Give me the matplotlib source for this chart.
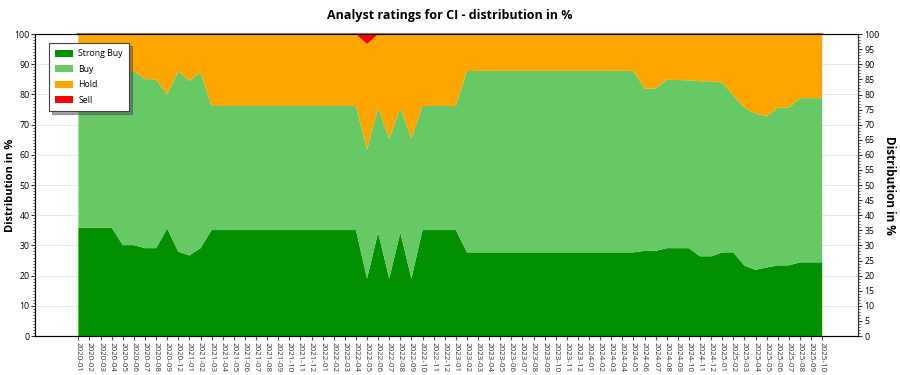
import numpy as np
import matplotlib.pyplot as plt
from matplotlib.ticker import MultipleLocator

plt.rcParams['font.family'] = ['Open Sans', 'DejaVu Sans']

# Months shown on the x axis (2020-10 and 2020-11 are missing in the source)
months = ['2020-01', '2020-02', '2020-03', '2020-04', '2020-05', '2020-06', '2020-07', '2020-08', '2020-09', '2020-12',
          '2021-01', '2021-02', '2021-03', '2021-04', '2021-05', '2021-06', '2021-07', '2021-08', '2021-09', '2021-10', '2021-11', '2021-12',
          '2022-01', '2022-02', '2022-03', '2022-04', '2022-05', '2022-06', '2022-07', '2022-08', '2022-09', '2022-10', '2022-11', '2022-12',
          '2023-01', '2023-02', '2023-03', '2023-04', '2023-05', '2023-06', '2023-07', '2023-08', '2023-09', '2023-10', '2023-11', '2023-12',
          '2024-01', '2024-02', '2024-03', '2024-04', '2024-05', '2024-06', '2024-07', '2024-08', '2024-09', '2024-10', '2024-11', '2024-12',
          '2025-01', '2025-02', '2025-03', '2025-04', '2025-05', '2025-06', '2025-07', '2025-08', '2025-09', '2025-10']

# distribution in %
strong_buy = [35.9, 35.9, 35.9, 35.9, 30.1, 30.1, 29.1, 29.1, 35.6, 27.9,
              26.7, 29.1, 35.1, 35.1, 35.1, 35.1, 35.1, 35.1, 35.1, 35.1, 35.1, 35.1,
              35.1, 35.1, 35.1, 35.1, 19.0, 34.3, 19.0, 34.3, 19.0, 35.1, 35.1, 35.1,
              35.1, 27.7, 27.7, 27.7, 27.7, 27.7, 27.7, 27.7, 27.7, 27.7, 27.7, 27.7,
              27.7, 27.7, 27.7, 27.7, 27.7, 28.2, 28.2, 29.1, 29.1, 29.1, 26.4, 26.4,
              27.7, 27.7, 23.3, 21.9, 22.7, 23.4, 23.4, 24.4, 24.4, 24.4]
buy = [52.1, 52.1, 52.1, 52.1, 57.6, 57.6, 56.0, 55.9, 44.4, 59.8,
       57.8, 58.2, 41.1, 41.1, 41.1, 41.1, 41.1, 41.1, 41.1, 41.1, 41.1, 41.1,
       41.1, 41.1, 41.1, 41.1, 42.7, 41.3, 46.3, 41.3, 46.3, 41.1, 41.1, 41.1,
       41.1, 60.1, 60.1, 60.1, 60.1, 60.1, 60.1, 60.1, 60.1, 60.1, 60.1, 60.1,
       60.1, 60.1, 60.1, 60.1, 60.1, 53.8, 53.8, 55.8, 55.7, 55.6, 58.0, 58.0,
       56.3, 52.0, 52.3, 51.8, 50.1, 52.2, 52.2, 54.4, 54.4, 54.4]
hold = [12.0, 12.0, 12.0, 12.0, 12.3, 12.3, 14.9, 15.0, 20.0, 12.3,
        15.5, 12.7, 23.8, 23.8, 23.8, 23.8, 23.8, 23.8, 23.8, 23.8, 23.8, 23.8,
        23.8, 23.8, 23.8, 23.8, 35.0, 24.4, 34.7, 24.4, 34.7, 23.8, 23.8, 23.8,
        23.8, 12.2, 12.2, 12.2, 12.2, 12.2, 12.2, 12.2, 12.2, 12.2, 12.2, 12.2,
        12.2, 12.2, 12.2, 12.2, 12.2, 18.0, 18.0, 15.1, 15.2, 15.3, 15.6, 15.6,
        16.0, 20.3, 24.4, 26.3, 27.2, 24.4, 24.4, 21.2, 21.2, 21.2]
sell = [0, 0, 0, 0, 0, 0, 0, 0, 0, 0,
        0, 0, 0, 0, 0, 0, 0, 0, 0, 0, 0, 0,
        0, 0, 0, 0, 3.3, 0, 0, 0, 0, 0, 0, 0,
        0, 0, 0, 0, 0, 0, 0, 0, 0, 0, 0, 0,
        0, 0, 0, 0, 0, 0, 0, 0, 0, 0, 0, 0,
        0, 0, 0, 0, 0, 0, 0, 0, 0, 0]

labels = ['Strong Buy', 'Buy', 'Hold', 'Sell']
colors = ['#009000', '#66C966', '#FFA500', '#FF0000']

x = np.arange(len(months))

fig = plt.figure(figsize=(9, 3.75), dpi=100)
ax = fig.add_axes([0.039, 0.104, 0.914, 0.805])

ax.grid(axis='y', color='#e8e8e8', linewidth=0.8, zorder=0)
ax.set_axisbelow(True)
ax.stackplot(x, strong_buy, buy, hold, sell, colors=colors, labels=labels, linewidth=0, zorder=2)
# darker edge on top of the stack
ax.plot([x[0], x[-1]], [100, 100], color='#8f7440', linewidth=1.5, zorder=3, clip_on=False)

ax.set_xlim(-3.9, len(months) + 2.2)
ax.set_ylim(0, 100)
ax.set_xticks(x)
ax.set_xticklabels(months, rotation=270, fontsize=5.8, color='#333333')
ax.tick_params(axis='x', length=3, pad=1, color='#555555')
ax.yaxis.set_major_locator(MultipleLocator(10))
ax.yaxis.set_minor_locator(MultipleLocator(1))
ax.tick_params(axis='y', which='major', labelsize=6.3, length=3, pad=1, color='#333333')
ax.tick_params(axis='y', which='minor', length=1.5, color='#333333')
ax.set_ylabel('Distribution in %', fontsize=8, fontweight='bold', va='center')
ax.yaxis.set_label_coords(-0.0295, 0.5)

for s in ['left', 'bottom']:
    ax.spines[s].set_color('#333333')
ax.spines['top'].set_color('#888888')
ax.spines['right'].set_color('#888888')

ax2 = ax.twinx()
ax2.set_ylim(0, 100)
ax2.yaxis.set_major_locator(MultipleLocator(5))
ax2.yaxis.set_minor_locator(MultipleLocator(1))
ax2.tick_params(axis='y', which='major', labelsize=6.3, length=3, pad=2, color='#333333')
ax2.tick_params(axis='y', which='minor', length=1.5, color='#333333')
ax2.set_ylabel('Distribution in %', fontsize=8.5, fontweight='bold', rotation=270, va='center')
ax2.yaxis.set_label_coords(1.039, 0.5)
ax2.spines['right'].set_color('#333333')

leg = ax.legend(loc='upper left', bbox_to_anchor=(0.012, 0.985), fontsize=6.3, frameon=True,
                fancybox=False, shadow=True, edgecolor='#444444', handlelength=2.0,
                handleheight=0.9, labelspacing=0.75, borderpad=0.7, handletextpad=0.6)
leg.get_frame().set_linewidth(0.8)

fig.suptitle('Analyst ratings for CI - distribution in %', fontsize=9, fontweight='bold', y=0.975)

fig.savefig('out.png', dpi=100)
